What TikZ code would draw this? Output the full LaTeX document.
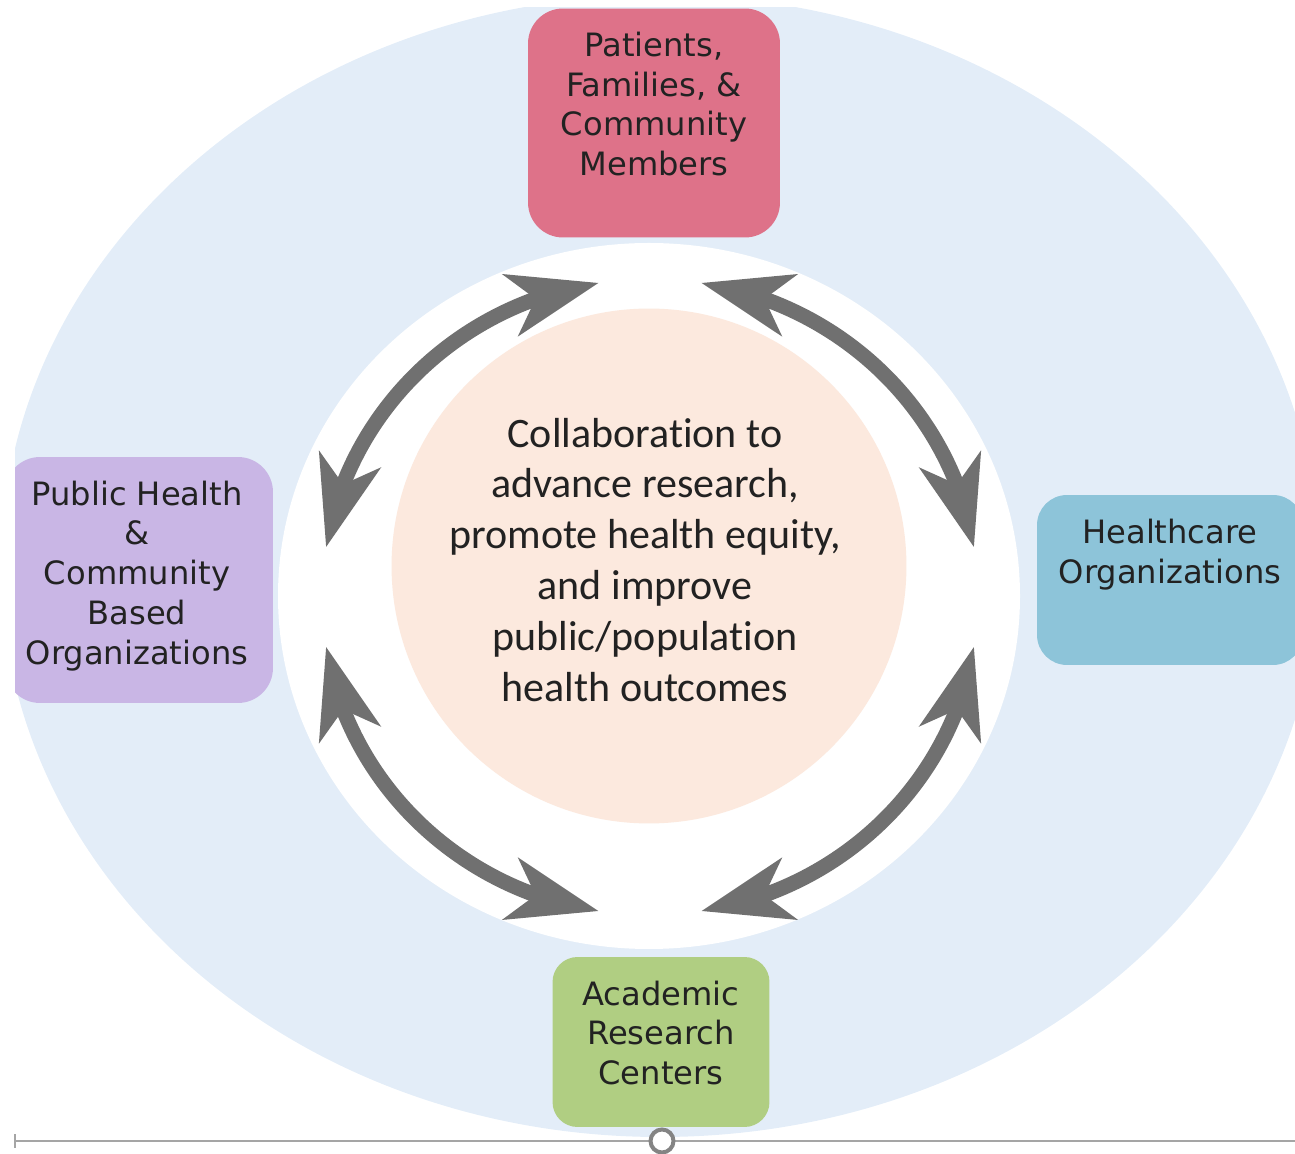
\documentclass[tikz,border=0pt]{standalone}
\usepackage{fontspec}
\newfontfamily\boxfont{DejaVu Sans}
\newfontfamily\hubfont[Ligatures=NoCommon]{Carlito}
\usetikzlibrary{arrows.meta,bending}
\definecolor{outerblue}{RGB}{227,237,248}
\definecolor{hubpeach}{RGB}{252,233,222}
\definecolor{patred}{RGB}{222,114,137}
\definecolor{phlilac}{RGB}{201,182,229}
\definecolor{hcblue}{RGB}{141,196,217}
\definecolor{acgreen}{RGB}{176,206,130}
\definecolor{arrowgray}{RGB}{112,112,112}
\definecolor{railgray}{RGB}{165,165,165}
\definecolor{inktext}{RGB}{34,34,34}

\begin{document}
\begin{tikzpicture}[x=0.02cm,y=0.02cm,
    partner/.style={rounded corners=0.7cm, inner sep=0pt},
    partnertext/.style={align=center, text=inktext, inner sep=0pt, font=\boxfont\fontsize{18.3}{22.7}\selectfont},
    twoway/.style={draw=arrowgray, line width=0.3cm, {Stealth[length=1.8cm,width=1.25cm,inset=0.5cm]}-{Stealth[length=1.8cm,width=1.25cm,inset=0.5cm]}}]
\useasboundingbox (0,0) rectangle (1295,1153);
\begin{scope}
\clip (15,0) rectangle (1295,1145);
\fill[outerblue] (660,587) ellipse[x radius=659, y radius=571];
\fill[white] (649,557) ellipse[x radius=371, y radius=353];
\node (hub) [circle, fill=hubpeach, minimum size=10.3cm, inner sep=0pt] at (649,587) {};
\node (hubtext) [align=center, text=inktext, inner sep=0pt, font=\hubfont\fontsize{23.9}{29}\selectfont] at (645,593)
    {Collaboration to\\advance research,\\promote health equity,\\and improve\\public/population\\health outcomes};

\coordinate (ring) at (650,556);
\foreach \a/\b in {171/99, 81/9, -9/-81, -99/-171}
    \draw[twoway] ([shift={(\a:328 and 318)}]ring) arc[start angle=\a, end angle=\b, x radius=328, y radius=318];

\node (patients) [partner, fill=patred, minimum width=5.04cm, minimum height=4.58cm] at (654,1030) {};
\node (patientstext) [partnertext] at (654,1049) {Patients,\\Families, \&\\Community\\Members};
\node (publichealth) [partner, fill=phlilac, minimum width=5.36cm, minimum height=4.92cm] at (139,573) {};
\node (publichealthtext) [partnertext] at (137,577) {Public Health\\\&\\Community\\Based\\Organizations};
\node (healthcare) [partner, rounded corners=0.6cm, fill=hcblue, minimum width=5.32cm, minimum height=3.4cm] at (1170,573) {};
\node (healthcaretext) [partnertext] at (1170,598) {Healthcare\\Organizations};
\node (academic) [partner, rounded corners=0.5cm, fill=acgreen, minimum width=4.34cm, minimum height=3.4cm] at (661,111) {};
\node (academictext) [partnertext] at (661,120) {Academic\\Research\\Centers};
\end{scope}

\coordinate (railL) at (15,12);
\coordinate (railR) at (1295,12);
\draw[railgray, line width=0.04cm] (railL) -- (railR);
\draw[railgray, line width=0.03cm] ([yshift=-0.14cm]railL) -- ([yshift=0.14cm]railL);
\node (knob) [circle, draw=railgray!80!black, line width=0.08cm, fill=white, minimum size=0.46cm, inner sep=0pt] at (662,12) {};
\end{tikzpicture}
\end{document}
